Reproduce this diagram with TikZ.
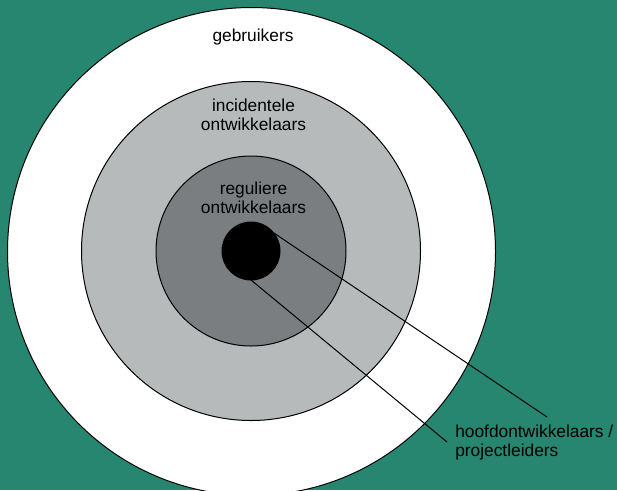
\documentclass[tikz,border=0pt]{standalone}
\usepackage{fontspec}
\setmainfont{Liberation Sans}
\usetikzlibrary{positioning}
\definecolor{bggreen}{RGB}{38,134,112}
\definecolor{ringlight}{RGB}{182,186,187}
\definecolor{ringdark}{RGB}{122,126,128}

\begin{document}
\begin{tikzpicture}[x=0.75pt,y=-0.75pt,
  ring/.style={circle,draw=black,line width=0.75pt,inner sep=0pt,outer sep=0pt},
  lbl/.style={font=\fontsize{13}{14.5}\selectfont,inner sep=0pt}]
 \useasboundingbox (0,0) rectangle (617,490);
 \clip (0,0) rectangle (617,490);
 \path[fill=bggreen] (0,0) rectangle (617,490);
 % rings, outside in
 \node[ring,fill=white,minimum size=366pt] (users) at (251.5,251.5) {};
 \node[ring,fill=ringlight,minimum size=254.25pt] (occasional) at (251,251) {};
 \node[ring,fill=ringdark,minimum size=142.5pt] (regular) at (251,251) {};
 \node[ring,fill=black,minimum size=43.5pt] (core) at (251,251) {};
 % ring names (base = last line)
 \node[lbl,anchor=base] (userstxt) at (253,41) {gebruikers};
 \node[lbl,anchor=base,align=center] (occtxt) at (253.5,130.5) {incidentele\\ontwikkelaars};
 \node[lbl,anchor=base,align=center] (regtxt) at (253.5,213.7) {reguliere\\ontwikkelaars};
 \node[lbl,anchor=base west,align=left] (leadtxt) at (455,456.7) {hoofdontwikkelaars /\\projectleiders};
 % pointers to the core
 \coordinate (tipA) at (547,417);
 \coordinate (tipB) at (447,442);
 \draw[line width=0.75pt] (core.39) -- (tipA);
 \draw[line width=0.75pt] (core.south) -- (tipB);
\end{tikzpicture}
\end{document}
